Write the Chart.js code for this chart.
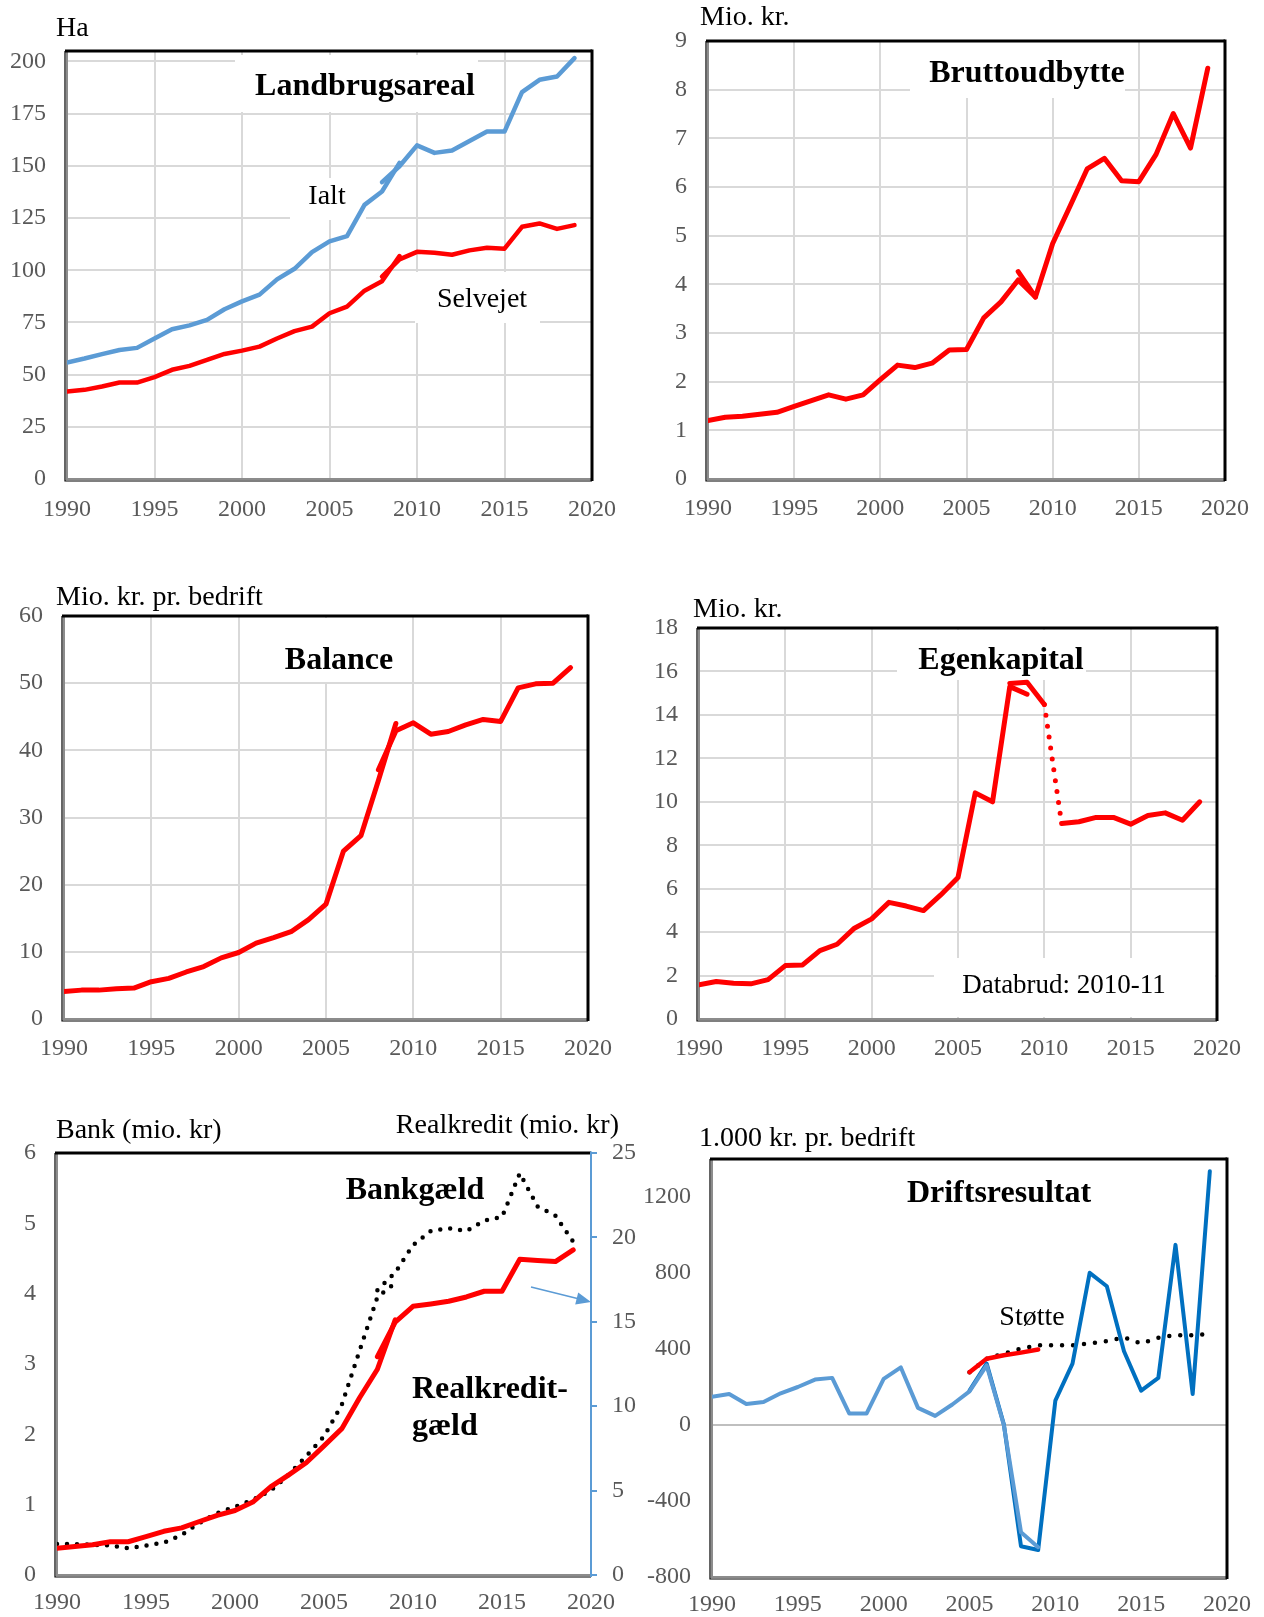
<!DOCTYPE html>
<html>
<head>
<meta charset="utf-8">
<title>Landbrug 1990-2019</title>
<script src="https://cdn.jsdelivr.net/npm/chart.js@4.4.1/dist/chart.umd.min.js"></script>
<style>
    html, body {
        margin: 0;
        padding: 0;
        background: #ffffff;
    }

    body {
        position: relative;
        width: 1264px;
        height: 1617px;
        overflow: hidden;
        font-family: "Liberation Serif", serif;
    }

    canvas {
        position: absolute;
    }
</style>
</head>
<body>

<canvas id="arealChart" width="632" height="540" style="left:0px;top:0px"></canvas>
<canvas id="bruttoChart" width="632" height="540" style="left:632px;top:0px"></canvas>
<canvas id="balanceChart" width="632" height="530" style="left:0px;top:540px"></canvas>
<canvas id="egenChart" width="632" height="530" style="left:632px;top:540px"></canvas>
<canvas id="gaeldChart" width="640" height="547" style="left:0px;top:1070px"></canvas>
<canvas id="driftChart" width="624" height="547" style="left:640px;top:1070px"></canvas>

<script>

/* =========================
DATA
========================= */

// landbrugsareal, ha
const arealYearsOld = [1990, 1991, 1992, 1993, 1994, 1995, 1996, 1997, 1998, 1999, 2000, 2001, 2002, 2003, 2004, 2005, 2006, 2007, 2008, 2009];
const arealYearsNew = [2008, 2009, 2010, 2011, 2012, 2013, 2014, 2015, 2016, 2017, 2018, 2019];
const ialtOld = [55.8, 57.7, 59.8, 61.8, 62.8, 67.3, 71.7, 73.6, 76.2, 81.3, 85.1, 88.3, 95.6, 100.7, 108.7, 113.8, 116.3, 131.3, 137.7, 151.4];
const ialtNew = [142.2, 149.8, 159.8, 156.2, 157.3, 161.9, 166.4, 166.4, 185.3, 191.2, 192.8, 201.6];
const selvejetOld = [41.9, 42.7, 44.3, 46.2, 46.2, 48.8, 52.3, 54.2, 57.1, 59.9, 61.5, 63.4, 67.3, 70.8, 73.0, 79.4, 82.6, 90.2, 94.7, 106.8];
const selvejetNew = [96.9, 105.2, 108.8, 108.4, 107.4, 109.5, 110.8, 110.3, 120.8, 122.4, 119.8, 121.6];

// bruttoudbytte, mio. kr.
const bruttoYearsOld = [1990, 1991, 1992, 1993, 1994, 1995, 1996, 1997, 1998, 1999, 2000, 2001, 2002, 2003, 2004, 2005, 2006, 2007, 2008, 2009];
const bruttoYearsNew = [2008, 2009, 2010, 2011, 2012, 2013, 2014, 2015, 2016, 2017, 2018, 2019];
const bruttoOld = [1.20, 1.27, 1.29, 1.33, 1.37, 1.49, 1.61, 1.73, 1.64, 1.73, 2.04, 2.34, 2.29, 2.38, 2.65, 2.66, 3.31, 3.64, 4.09, 3.74];
const bruttoNew = [4.26, 3.74, 4.84, 5.60, 6.37, 6.59, 6.13, 6.11, 6.67, 7.51, 6.80, 8.44];

// balance, mio. kr. pr. bedrift
const balanceYearsOld = [1990, 1991, 1992, 1993, 1994, 1995, 1996, 1997, 1998, 1999, 2000, 2001, 2002, 2003, 2004, 2005, 2006, 2007, 2008, 2009];
const balanceYearsNew = [2008, 2009, 2010, 2011, 2012, 2013, 2014, 2015, 2016, 2017, 2018, 2019];
const balanceOld = [4.1, 4.3, 4.3, 4.5, 4.6, 5.55, 6.05, 7.0, 7.8, 9.1, 9.9, 11.3, 12.1, 13.0, 14.8, 17.1, 25.0, 27.3, 35.5, 44.0];
const balanceNew = [37.1, 42.9, 44.1, 42.4, 42.8, 43.8, 44.6, 44.3, 49.3, 49.9, 50.0, 52.3];

// egenkapital, mio. kr.
const egenYearsOld = [1990, 1991, 1992, 1993, 1994, 1995, 1996, 1997, 1998, 1999, 2000, 2001, 2002, 2003, 2004, 2005, 2006, 2007, 2008, 2009];
const egenYearsNew = [2008, 2009, 2010, 2011, 2012, 2013, 2014, 2015, 2016, 2017, 2018, 2019];
const egenOld = [1.58, 1.73, 1.65, 1.62, 1.81, 2.46, 2.49, 3.15, 3.44, 4.18, 4.61, 5.37, 5.20, 4.99, 5.71, 6.51, 10.41, 10.0, 15.3, 14.95];
const egenNew = [15.45, 15.5, 14.48, 9.0, 9.08, 9.28, 9.28, 8.97, 9.37, 9.49, 9.15, 10.0];

// bankgaeld (venstre akse) og realkreditgaeld (hoejre akse), mio. kr.
const gaeldYearsOld = [1990, 1991, 1992, 1993, 1994, 1995, 1996, 1997, 1998, 1999, 2000, 2001, 2002, 2003, 2004, 2005, 2006, 2007, 2008, 2009];
const gaeldYearsNew = [2008, 2009, 2010, 2011, 2012, 2013, 2014, 2015, 2016, 2017, 2018, 2019];
const bankOld = [0.44, 0.44, 0.43, 0.42, 0.38, 0.42, 0.46, 0.57, 0.74, 0.88, 0.97, 1.07, 1.20, 1.42, 1.69, 1.97, 2.42, 3.19, 3.95, 4.15];
const bankNew = [4.05, 4.30, 4.69, 4.89, 4.93, 4.89, 5.04, 5.09, 5.71, 5.24, 5.11, 4.74];
const realkreditOld = [1.59, 1.69, 1.79, 1.97, 1.97, 2.27, 2.59, 2.79, 3.17, 3.53, 3.82, 4.32, 5.22, 5.92, 6.65, 7.65, 8.67, 10.5, 12.19, 15.12];
const realkreditNew = [12.93, 14.98, 15.92, 16.06, 16.22, 16.47, 16.81, 16.81, 18.71, 18.63, 18.57, 19.26];

// driftsresultat og stoette, 1.000 kr. pr. bedrift
const driftYearsOld = [1990, 1991, 1992, 1993, 1994, 1995, 1996, 1997, 1998, 1999, 2000, 2001, 2002, 2003, 2004, 2005, 2006, 2007, 2008, 2009];
const driftYearsNew = [2005, 2006, 2007, 2008, 2009, 2010, 2011, 2012, 2013, 2014, 2015, 2016, 2017, 2018, 2019];
const stotteYearsOld = [2005, 2006, 2007, 2008, 2009];
const driftOld = [149, 163, 110, 121, 167, 200, 239, 248, 60, 60, 243, 303, 90, 48, 108, 177, 314, 0, -564, -643];
const driftNew = [181, 323, 4, -638, -658, 128, 323, 801, 730, 388, 181, 248, 948, 163, 1336];
const stotteOld = [278, 349, 367, 381, 397];
const stotteNew = [278, 349, 376, 402, 420, 420, 420, 429, 441, 461, 429, 459, 473, 473, 478];

// x-akse
const xTicks = [1990, 1995, 2000, 2005, 2010, 2015, 2020];

/* =========================
COLOURS / FONTS
========================= */

const RED = "#ff0000";
const LIGHT_BLUE = "#5b9bd5";
const DARK_BLUE = "#0070c0";
const GRID = "#d9d9d9";
const TICK_TEXT = "#595959";
const SERIF = "'Liberation Serif', serif";
const TICK_FONT = { family: SERIF, size: 24 };

Chart.defaults.font.family = SERIF;
Chart.defaults.font.size = 24;
Chart.defaults.color = TICK_TEXT;

function points(years, values) {

    return years.map((year, i) => ({ x: year, y: values[i] }));

}

/* =========================
DECORATION PLUGIN
(frame, unit labels, titles, white label boxes)
========================= */

const decorPlugin = {

    id: "decor",

    beforeDatasetsDraw(chart, args, opts) {

        const ctx = chart.ctx;
        const a = chart.chartArea;
        const ox = opts.origin[0];
        const oy = opts.origin[1];

        ctx.save();

        (opts.boxes || []).forEach(b => {
            ctx.fillStyle = "#ffffff";
            ctx.fillRect(b[0] - ox, b[1] - oy, b[2] - b[0], b[3] - b[1]);
        });

        // thin black outline left / bottom, heavy black top / right
        ctx.strokeStyle = "#000000";
        ctx.lineWidth = 1.2;
        ctx.beginPath();
        ctx.moveTo(a.left - 2, a.top);
        ctx.lineTo(a.left - 2, a.bottom + 2);
        ctx.lineTo(a.right, a.bottom + 2);
        ctx.stroke();

        ctx.lineWidth = 3;
        ctx.beginPath();
        ctx.moveTo(a.left - 2, a.top);
        ctx.lineTo(a.right, a.top);
        ctx.stroke();

        ctx.strokeStyle = opts.rightColor || "#000000";
        ctx.lineWidth = opts.rightColor ? 2 : 3;
        ctx.beginPath();
        ctx.moveTo(a.right, a.top - 1.5);
        ctx.lineTo(a.right, a.bottom + 2);
        ctx.stroke();

        (opts.texts || []).forEach(t => {
            ctx.font = (t.bold ? "bold " : "") + t.size + "px " + SERIF;
            ctx.fillStyle = "#000000";
            ctx.textAlign = t.align || "center";
            ctx.textBaseline = "middle";
            ctx.fillText(t.text, t.x - ox, t.y - oy);
        });

        ctx.restore();

    },

    afterDatasetsDraw(chart, args, opts) {

        if (!opts.arrow)
            return;

        const ctx = chart.ctx;
        const ox = opts.origin[0];
        const oy = opts.origin[1];
        const [x1, y1, x2, y2] = opts.arrow;
        const ang = Math.atan2(y2 - y1, x2 - x1);

        ctx.save();
        ctx.strokeStyle = LIGHT_BLUE;
        ctx.fillStyle = LIGHT_BLUE;
        ctx.lineWidth = 1.5;
        ctx.beginPath();
        ctx.moveTo(x1 - ox, y1 - oy);
        ctx.lineTo(x2 - ox - 12 * Math.cos(ang), y2 - oy - 12 * Math.sin(ang));
        ctx.stroke();

        ctx.beginPath();
        ctx.moveTo(x2 - ox, y2 - oy);
        ctx.lineTo(x2 - ox - 16 * Math.cos(ang - 0.4), y2 - oy - 16 * Math.sin(ang - 0.4));
        ctx.lineTo(x2 - ox - 16 * Math.cos(ang + 0.4), y2 - oy - 16 * Math.sin(ang + 0.4));
        ctx.closePath();
        ctx.fill();
        ctx.restore();

    }

};

Chart.register(decorPlugin);

/* =========================
COMMON OPTIONS
========================= */

function xScale(showGrid, pad) {

    return {
        type: "linear",
        min: 1990,
        max: 2020,
        afterBuildTicks: scale => {
            scale.ticks = xTicks.map(v => ({ value: v }));
        },
        afterFit: scale => {
            scale.height = 40;
        },
        ticks: {
            autoSkip: false,
            maxRotation: 0,
            padding: pad,
            color: TICK_TEXT,
            font: TICK_FONT,
            callback: v => String(v)
        },
        grid: {
            display: showGrid,
            color: GRID,
            lineWidth: 2,
            drawTicks: false
        },
        border: {
            color: "#8c8c8c",
            width: 2
        }
    };

}

function yScale(min, max, step, width, gridColor) {

    return {
        type: "linear",
        position: "left",
        min: min,
        max: max,
        afterFit: scale => {
            scale.width = width;
        },
        ticks: {
            stepSize: step,
            includeBounds: false,
            padding: 21,
            color: TICK_TEXT,
            font: TICK_FONT,
            callback: v => String(v)
        },
        grid: {
            display: gridColor !== null,
            color: gridColor || GRID,
            lineWidth: 2,
            drawTicks: false
        },
        border: {
            color: "#8c8c8c",
            width: 2
        }
    };

}

function getChartOptions(pad, scales, decor) {

    return {
        responsive: false,
        animation: false,
        font: TICK_FONT,
        layout: {
            padding: pad
        },
        elements: {
            point: { radius: 0 },
            line: { tension: 0, borderJoinStyle: "round", borderCapStyle: "round" }
        },
        plugins: {
            legend: { display: false },
            tooltip: { enabled: false },
            decor: decor
        },
        scales: scales
    };

}

function line(pts, color, width, extra) {

    return Object.assign({
        data: pts,
        borderColor: color,
        backgroundColor: color,
        borderWidth: width,
        fill: false
    }, extra || {});

}

/* =========================
LANDBRUGSAREAL
========================= */

let arealChart;

function renderArealChart() {

    arealChart = new Chart(document.getElementById("arealChart"), {
        type: "line",
        data: {
            datasets: [
                line(points(arealYearsOld, selvejetOld), RED, 4.5),
                line(points(arealYearsNew, selvejetNew), RED, 4.5),
                line(points(arealYearsOld, ialtOld), LIGHT_BLUE, 4.5),
                line(points(arealYearsNew, ialtNew), LIGHT_BLUE, 4.5)
            ]
        },
        options: getChartOptions(
            { left: 0, top: 51, right: 29, bottom: 21 },
            { x: xScale(true, 16), y: yScale(0, 205, 25, 67, GRID) },
            {
                origin: [0, 0],
                boxes: [[235, 55, 478, 112], [290, 178, 366, 220], [415, 272, 540, 323]],
                texts: [
                    { text: "Ha", x: 56, y: 29, size: 28, align: "left" },
                    { text: "Landbrugsareal", x: 365, y: 87, size: 32, bold: true },
                    { text: "Ialt", x: 327, y: 197, size: 28 },
                    { text: "Selvejet", x: 482, y: 300, size: 28 }
                ]
            }
        )
    });

}

/* =========================
BRUTTOUDBYTTE
========================= */

let bruttoChart;

function renderBruttoChart() {

    bruttoChart = new Chart(document.getElementById("bruttoChart"), {
        type: "line",
        data: {
            datasets: [
                line(points(bruttoYearsOld, bruttoOld), RED, 5),
                line(points(bruttoYearsNew, bruttoNew), RED, 5)
            ]
        },
        options: getChartOptions(
            { left: 0, top: 41, right: 30, bottom: 21 },
            { x: xScale(true, 15), y: yScale(0, 9, 1, 76, GRID) },
            {
                origin: [632, 0],
                boxes: [[910, 42, 1125, 98]],
                texts: [
                    { text: "Mio. kr.", x: 700, y: 18, size: 28, align: "left" },
                    { text: "Bruttoudbytte", x: 1027, y: 74, size: 32, bold: true }
                ]
            }
        )
    });

}

/* =========================
BALANCE
========================= */

let balanceChart;

function renderBalanceChart() {

    balanceChart = new Chart(document.getElementById("balanceChart"), {
        type: "line",
        data: {
            datasets: [
                line(points(balanceYearsOld, balanceOld), RED, 5),
                line(points(balanceYearsNew, balanceNew), RED, 5)
            ]
        },
        options: getChartOptions(
            { left: 0, top: 76, right: 44, bottom: 11 },
            { x: xScale(true, 15), y: yScale(0, 60, 10, 64, GRID) },
            {
                origin: [0, 540],
                boxes: [[272, 618, 402, 682]],
                texts: [
                    { text: "Mio. kr. pr. bedrift", x: 56, y: 598, size: 28, align: "left" },
                    { text: "Balance", x: 339, y: 661, size: 32, bold: true }
                ]
            }
        )
    });

}

/* =========================
EGENKAPITAL
========================= */

let egenChart;

function renderEgenChart() {

    egenChart = new Chart(document.getElementById("egenChart"), {
        type: "line",
        data: {
            datasets: [
                line(points(egenYearsOld, egenOld), RED, 5),
                line(points(egenYearsNew, egenNew), RED, 5, {
                    // databrud 2010-11 vises prikket
                    segment: {
                        borderDash: c => c.p0.parsed.x === 2010 ? [0, 11] : undefined
                    }
                })
            ]
        },
        options: getChartOptions(
            { left: 0, top: 88, right: 47, bottom: 11 },
            { x: xScale(true, 15), y: yScale(0, 18, 2, 67, GRID) },
            {
                origin: [632, 540],
                boxes: [[897, 630, 1086, 680], [934, 958, 1215, 1017]],
                texts: [
                    { text: "Mio. kr.", x: 693, y: 610, size: 28, align: "left" },
                    { text: "Egenkapital", x: 1001, y: 661, size: 32, bold: true },
                    { text: "Databrud: 2010-11", x: 1064, y: 986, size: 27 }
                ]
            }
        )
    });

}

/* =========================
BANKGAELD / REALKREDITGAELD
========================= */

let gaeldChart;

function renderGaeldChart() {

    const dotted = { borderDash: [0, 10], borderCapStyle: "round", yAxisID: "y" };

    gaeldChart = new Chart(document.getElementById("gaeldChart"), {
        type: "line",
        data: {
            datasets: [
                line(points(gaeldYearsOld, realkreditOld), RED, 5, { yAxisID: "y2" }),
                line(points(gaeldYearsNew, realkreditNew), RED, 5, { yAxisID: "y2" }),
                line(points(gaeldYearsOld, bankOld), "#000000", 4.5, dotted),
                line(points(gaeldYearsNew, bankNew), "#000000", 4.5, dotted)
            ]
        },
        options: getChartOptions(
            { left: 0, top: 83, right: 0, bottom: 2 },
            {
                x: xScale(false, 13),
                y: yScale(0, 6, 1, 57, null),
                y2: {
                    type: "linear",
                    position: "right",
                    min: 0,
                    max: 25,
                    afterFit: scale => {
                        scale.width = 49;
                    },
                    ticks: {
                        stepSize: 5,
                        padding: 15,
                        color: TICK_TEXT,
                        font: TICK_FONT,
                        callback: v => String(v)
                    },
                    grid: {
                        drawOnChartArea: false,
                        drawTicks: true,
                        tickLength: 6,
                        color: LIGHT_BLUE,
                        lineWidth: 2
                    },
                    border: {
                        color: LIGHT_BLUE,
                        width: 2
                    }
                }
            },
            {
                origin: [0, 1070],
                rightColor: LIGHT_BLUE,
                arrow: [531, 1287, 591, 1302],
                texts: [
                    { text: "Bank (mio. kr)", x: 56, y: 1131, size: 28, align: "left" },
                    { text: "Realkredit (mio. kr)", x: 619, y: 1126, size: 28, align: "right" },
                    { text: "Bankgæld", x: 415, y: 1191, size: 32, bold: true },
                    { text: "Realkredit-", x: 412, y: 1390, size: 32, bold: true, align: "left" },
                    { text: "gæld", x: 412, y: 1427, size: 32, bold: true, align: "left" }
                ]
            }
        )
    });

}

/* =========================
DRIFTSRESULTAT
========================= */

let driftChart;

function renderDriftChart() {

    driftChart = new Chart(document.getElementById("driftChart"), {
        type: "line",
        data: {
            datasets: [
                line(points(driftYearsOld, driftOld), LIGHT_BLUE, 4),
                line(points(driftYearsNew, driftNew), DARK_BLUE, 4),
                line(points(stotteYearsOld, stotteOld), RED, 4.5),
                line(points(driftYearsNew, stotteNew), "#000000", 4.5, {
                    borderDash: [0, 11],
                    borderCapStyle: "round"
                })
            ]
        },
        options: getChartOptions(
            { left: 0, top: 89, right: 24, bottom: 0 },
            {
                x: xScale(false, 13),
                y: yScale(-800, 1400, 400, 72, c => c.tick.value === 0 ? "#bfbfbf" : "rgba(0,0,0,0)")
            },
            {
                origin: [640, 1070],
                texts: [
                    { text: "1.000 kr. pr. bedrift", x: 699, y: 1139, size: 28, align: "left" },
                    { text: "Driftsresultat", x: 999, y: 1194, size: 32, bold: true },
                    { text: "Støtte", x: 1032, y: 1318, size: 28 }
                ]
            }
        )
    });

}

/* =========================
INITIALIZE
========================= */

function initializeCharts() {

    renderArealChart();

    renderBruttoChart();

    renderBalanceChart();

    renderEgenChart();

    renderGaeldChart();

    renderDriftChart();

}

initializeCharts();

</script>
</body>
</html>
